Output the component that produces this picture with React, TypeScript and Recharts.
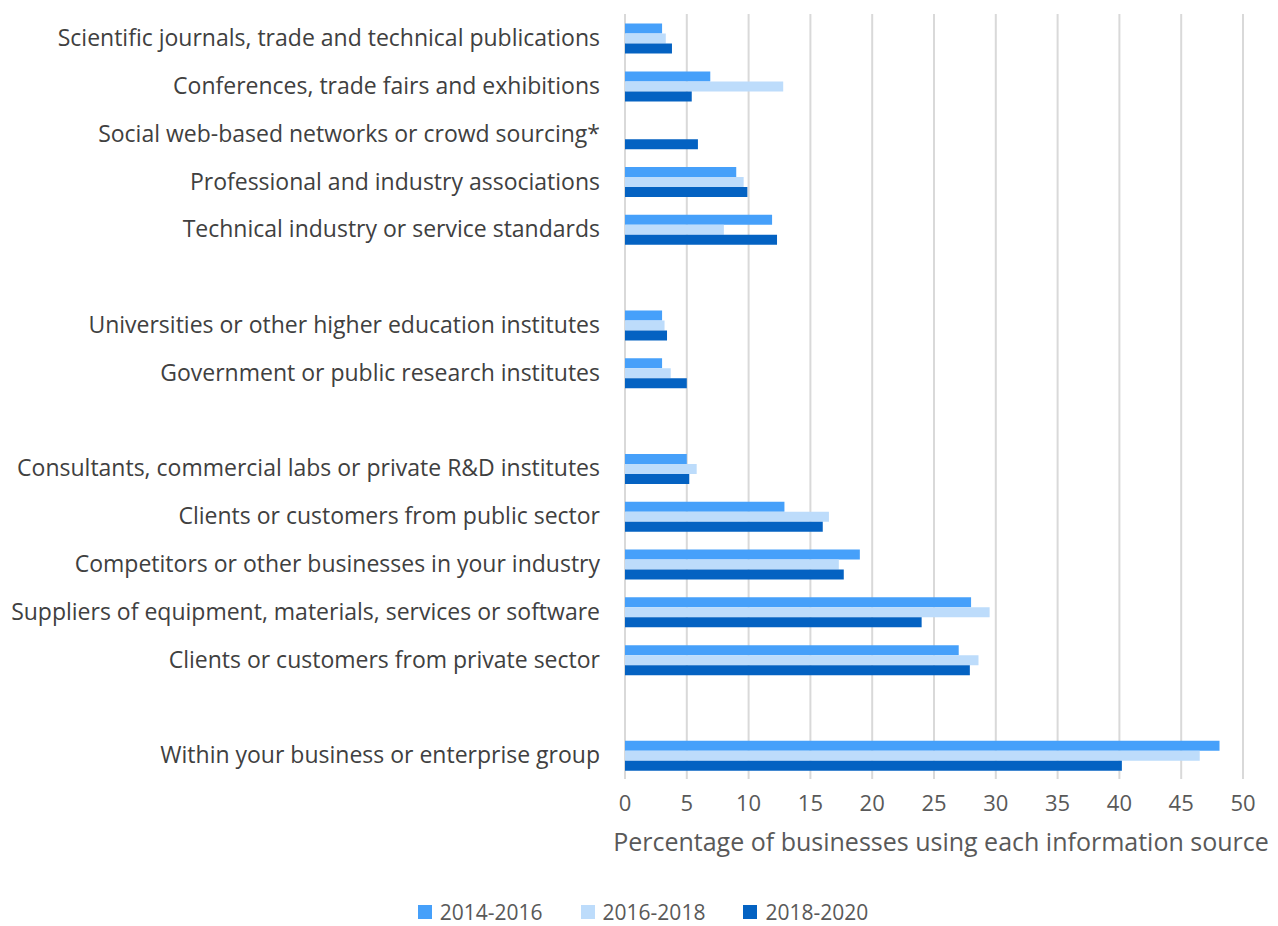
import { BarChart, Bar, XAxis, YAxis, CartesianGrid } from "recharts";

// rows from top to bottom; "" = blank spacer row between groups
const categories = [
  "Scientific journals, trade and technical publications",
  "Conferences, trade fairs and exhibitions",
  "Social web-based networks or crowd sourcing*",
  "Professional and industry associations",
  "Technical industry or service standards",
  "",
  "Universities or other higher education institutes",
  "Government or public research institutes",
  "",
  "Consultants, commercial labs or private R&D institutes",
  "Clients or customers from public sector",
  "Competitors or other businesses in your industry",
  "Suppliers of equipment, materials, services or software",
  "Clients or customers from private sector",
  "",
  "Within your business or enterprise group",
];

const p2014 = [3, 6.9, null, 9, 11.9, null, 3, 3, null, 5, 12.9, 19, 28, 27, null, 48.1];
const p2016 = [3.3, 12.8, null, 9.6, 8, null, 3.2, 3.7, null, 5.8, 16.5, 17.3, 29.5, 28.6, null, 46.5];
const p2018 = [3.8, 5.4, 5.9, 9.9, 12.3, null, 3.4, 5, null, 5.2, 16, 17.7, 24, 27.9, null, 40.2];

const xTicks = [0, 5, 10, 15, 20, 25, 30, 35, 40, 45, 50];

const series = [
  { key: "p2014", name: "2014-2016", color: "#46A0FA" },
  { key: "p2016", name: "2016-2018", color: "#BDDCFB" },
  { key: "p2018", name: "2018-2020", color: "#0462C2" },
];

const data = categories.map((c, i) => ({
  id: String(i),
  p2014: p2014[i],
  p2016: p2016[i],
  p2018: p2018[i],
}));

const FONT = "'Open Sans', sans-serif";

function LegendBox() {
  return (
    <div
      style={{
        position: "absolute",
        top: 895,
        left: 0,
        width: 1270,
        display: "flex",
        justifyContent: "center",
        gap: 38,
        fontFamily: FONT,
        fontSize: 21,
        lineHeight: "18px",
        color: "#595959",
      }}
    >
      {series.map((s) => (
        <div key={s.key} style={{ display: "flex", alignItems: "center", gap: 8 }}>
          <span style={{ width: 14, height: 14, background: s.color, display: "inline-block" }} />
          <span>{s.name}</span>
        </div>
      ))}
    </div>
  );
}

export default function App() {
  return (
    <div style={{ position: "relative", width: 1270, height: 918, background: "#fff" }}>
      <BarChart
        width={1270}
        height={855}
        data={data}
        layout="vertical"
        margin={{ top: 6, right: 35, bottom: 0, left: 0 }}
        barCategoryGap="20%"
        barGap={0}
      >
        <CartesianGrid horizontal={false} stroke="#d9d9d9" strokeWidth={2} />
        <XAxis
          type="number"
          domain={[0, 50]}
          ticks={xTicks}
          axisLine={false}
          tickLine={false}
          tickSize={0}
          tickMargin={16}
          height={84}
          tick={{ fontSize: 22, fill: "#595959", fontFamily: FONT }}
          label={{
            value: "Percentage of businesses using each information source",
            position: "insideBottom",
            offset: 12,
            dx: 7,
            fontSize: 25,
            fill: "#595959",
            fontFamily: FONT,
          }}
        />
        <YAxis
          type="category"
          dataKey="id"
          width={617}
          axisLine={false}
          tickLine={false}
          tickSize={0}
          tickMargin={25}
          interval={0}
          tickFormatter={(v) => categories[Number(v)]}
          tick={{ fontSize: 23, fill: "#404040", fontFamily: FONT }}
        />
        {series.map((s) => (
          <Bar key={s.key} dataKey={s.key} name={s.name} fill={s.color} isAnimationActive={false} />
        ))}
      </BarChart>
      <LegendBox />
    </div>
  );
}
